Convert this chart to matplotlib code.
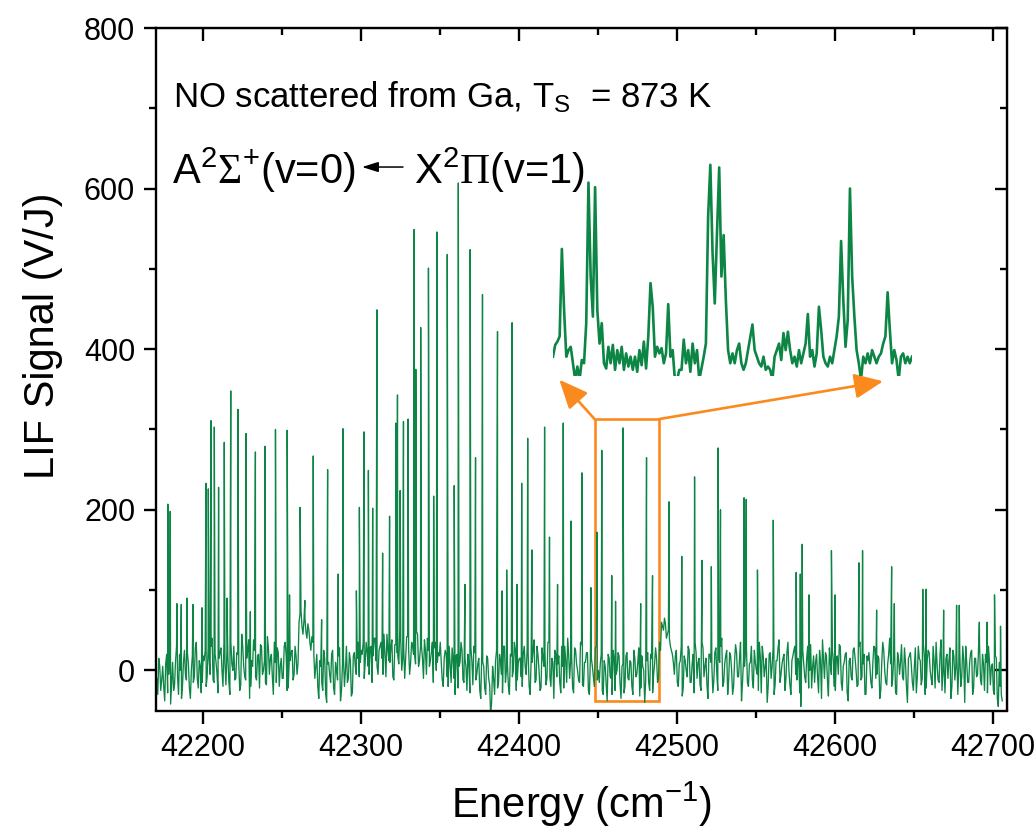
import numpy as np
import matplotlib
matplotlib.use('Agg')
import matplotlib.pyplot as plt
from matplotlib.patches import Rectangle
from matplotlib.ticker import MultipleLocator

plt.rcParams['font.family'] = ['Liberation Sans', 'DejaVu Sans']
plt.rcParams['mathtext.fontset'] = 'custom'
plt.rcParams['mathtext.rm'] = 'Liberation Sans'
plt.rcParams['mathtext.sf'] = 'Liberation Serif'
plt.rcParams['mathtext.it'] = 'Liberation Sans:italic'

green = '#0d8545'
orange = '#fb8a1e'

# baseline of the LIF scan, one reading every 1.25 cm-1 starting at 42171 cm-1
noise_start = 42171.0
noise_step = 1.25
noise = [
    -10, 15, -25, 5, -38, 20, -5, -42, 10, -18,
    30, -30, 0, -20, 25, -12, 8, -35, 18, -8,
    35, -22, 5, -15,
    12, -20, 28, -5, 40, -15, 10, -28, 22, 0,
    35, -18, 15, -30, 8, 30, -10, 20, -25, 45,
    5, -12, 25, -35, 12, 38, -8, 18, -22, 30,
    0, -15, 42, -5, 20, -30, 10, 28, -20, 15,
    -10, 35, -25, 8, 22, -12, 30, -5,
    60, 75, 45, 65, 40, 50, 25, 35,
    -10, 20, -35, 5, -25, 15, -40, 10, -15, 25,
    -30, 0, 18, -38, 8, -20, 30, -10, 12, -28,
    22, -5, 35, 10,
    20, -10, 35, 5, 28, -15, 40, 12, -5, 30,
    15, 45, -8, 25, 10, 38, -12, 32, 18, 50,
    0, 28, 15, 42, -5, 35, 20, 8, 45, 12,
    30, -10, 25, 40, 5, 22, -15, 35, 10, 18,
    10, -20, 25, -8, 30, -15, 12, -30, 20, 5,
    35, -12, 15, -25, 8, 28, -18, 22, -5, 15,
    -35, 10, -22, 18, -10, -55, 5, -30, 25, -15,
    12, -28, 30, 0, -20, 20, -8, 35, -25, 10,
    15, -20, 30, -5, 22, -30, 10, 38, -12, 18,
    -25, 28, 5, -18, 35, -8, 15, -35, 20, 8,
    -15, 30, -22, 12, 40, -10, 18, -28, 25, 0,
    -15, 32, -20, 10, 22, -30, 15, -8, 28, -12,
    -15, 20, -30, 5, -38, 15, -10, 25, -25, 0,
    18, -35, 8, -20, 22, -12, 10, -30, 15, -5,
    28, -22, 5, -40, 12, -15, 20, -28, 8, 15,
    -10, 25,
    55, 65, 40, 50, 30, 20,
    -5, 25, -20, 12, -32, 18, 0, 30, -15, 8,
    -28, 22, 10, -18, 35, -8, 15, -35, 20, 5,
    -12, 28, -25, 10, 40, -15, 18, -30, 22, 0,
    -20, 32, -8, 15, -38, 12, 25, -15, 8, 30,
    -22, 10, -5, 35, -28, 18, 5, -40, 20, -10,
    28, -18, 12, 38, -5, 15, -25, 22, 0, -30,
    18, 30, -12, 10, -45, 25, -8, 15, -22, 32,
    5, -15, 20, -28, 12, 38, -10, 18, -32, 8,
    25, -20, 15, -5, 30, -25, 10, 22, -38, 15,
    -12, 28, 0, -18, 35, -8, 20, -30, 12, 5,
    -22, 30, -10, 18, -35, 10, 25, -15, 8, 40,
    -20, 15, -28, 22, -5, 32, -12, 10, -40, 18,
    5, -25, 28, -8, 15, -18, 35, -30, 12, 22,
    -10, 30, -22, 8, -15, 38, 0, -28, 20, 12,
    -35, 25, -12, 18, 5, -20, 30, -40, 10, -15,
    22, -30, 15, -8, 28, -12, 20, -25, 10, 30,
    -18, 8, -30, 15, -45, -20, -38,
]
# readings halfway between the ones above
noise_mid = [
    -30, 5, -12, -20, 8, -28, 15, -15, -25, 12,
    -8, 20, -35, 10, -5, 22, -22, 0, -15, 28,
    -10, 12, -28, 18, 25, -8, 15, 30, -12, 20,
    -5, 15, 28, -20, 10, 25, -15, 35, 0, -12,
    22, 8, -18, 30, -8, 15, 38, -20, 5, 25,
    -12, 20, 32, -5, 12, -18, 28, 15, -8, 35,
    -15, 22, 5, -10, 30, 18, -22, 12, 25, -5,
    18, 10, 70, 55, 62, 48, 58, 35, 42, 20,
    5, -20, 12, -15, 25, -30, 8, -5, 20, -22,
    10, -12, 28, -25, 15, 0, -15, 22, -32, 18,
    5, 15, -8, 25, 35, 10, 22, -5, 30, 18,
    40, 5, 25, 35, -5, 20, 45, 12, 28, -8,
    32, 22, 8, 38, 15, -10, 42, 25, 10, 30,
    20, 48, 5, 30, 15, 38, -5, 25, 12, 35,
    28, 0, 22, 35, -12, 15, 20, -20, 8, 28,
    -10, 18, -22, 10, 25, -15, 5, 20, -28, 12,
    30, -12, 8, -25, 20, 5, -30, 15, -18, -40,
    -10, 12, -22, 20, -5, 30, -15, 8, -30, 18,
    0, 25, -12, 15, -8, 20, 5, 28, -20, 12,
    25, -15, 30, 0, -22, 15, 22, -10, 35, -20,
    10, 25, -8, 18, -28, 5, 30, -15, 20, 12,
    -22, 28, 8, -12, 35, -18, 10, 22, -25, 15,
    5, -20, 30, 0, 8, -25, 12, -18, 20, -8,
    -30, 15, -5, 22, -15, 5, -28, 18, -10, 12,
    -20, 25, -8, 10, -32, 18, 0, -12, 22, -25,
    15, -5, 28, -15, 35, 60, 50, 58, 45, 40,
    25, 10, 18, -15, 8, 30, -22, 12, -8, 25,
    -15, 20, 35, -10, 15, -25, 28, 5, -18, 20,
    10, -28, 22, -5, 15, 30, -20, 8, 25, -12,
    18, -30, 12, 22, -8, 35, -15, 5, 28, -20,
    10, -12, 25, 0, -25, 18, 30, -8, 15, -20,
    22, 5, -30, 12, 28, -15, 8, 20, -10, 35,
    -18, 12, 25, -5, 15, -28, 20, 8, -15, 30,
    0, -22, 18, 10, -8, 25, -35, 15, 22, -12,
    28, -5, 10, -25, 18, 32, -15, 5, 20, -28,
    12, -8, 25, 15, -20, 30, -12, 8, -30, 18,
    22, -15, 10, 28, -5, 15, -25, 35, 0, -18,
    20, 8, -12, 25, -30, 15, 10, -8, 28, -20,
    15, 22, -15, 5, -28, 30, 12, -10, 18, -22,
    25, 0, -18, 12, 35, -12, 20, -25, 8, 15,
    -10, 28, -20, 18, 5, -30, 22, -8, 12, 30,
    -15, 10, 25, -22, 15, -5, 32, -18, 8, 20,
    -28, 12, 5, -25, 18, -35, 10, -30,
]

# rotational lines: position (cm-1) and peak signal (V/J)
peak_energy = [
    42178.0, 42179.5, 42183.7, 42186.5, 42190.1, 42193.9, 42199.6,
    42202.1, 42203.6, 42205.3, 42207.4, 42210.1, 42213.7, 42215.4,
    42217.8, 42222.4, 42227.5, 42230.2, 42233.4, 42239.5, 42246.1,
    42253.5, 42255.0, 42261.7, 42264.7, 42270.0, 42275.3, 42279.1,
    42285.8, 42288.8, 42297.3, 42299.2, 42302.1, 42304.9, 42307.6,
    42310.3, 42313.9, 42318.3, 42322.3, 42323.3, 42325.0, 42327.1,
    42330.0, 42333.8, 42334.9, 42338.0, 42342.9, 42346.2, 42348.3,
    42354.8, 42359.2, 42361.8, 42366.0, 42369.3, 42372.7, 42377.1,
    42386.6, 42389.5, 42392.4, 42395.8, 42398.9, 42401.9, 42405.7,
    42408.4, 42416.4, 42419.5, 42424.6, 42428.2, 42433.2, 42440.0,
    42445.7, 42449.6, 42452.6, 42458.9, 42461.3, 42466.0, 42477.2,
    42480.9, 42484.7, 42495.1, 42503.2, 42511.3, 42516.0, 42521.9,
    42526.2, 42527.7, 42542.6, 42544.0, 42551.1, 42561.1, 42575.6,
    42578.2, 42579.4, 42583.7, 42597.9, 42600.2, 42615.3, 42617.6,
    42626.5, 42636.0, 42637.7, 42655.7, 42657.8, 42668.9, 42677.1,
    42678.8, 42691.5, 42696.4, 42701.1, 42704.9,
]
peak_height = [
    207, 198, 83, 82, 90, 82, 78,
    233, 226, 311, 303, 228, 284, 90,
    348, 325, 295, 73, 272, 279, 300,
    299, 94, 203, 87, 267, 63, 250,
    120, 301, 99, 203, 297, 249, 202,
    449, 146, 192, 308, 343, 224, 310,
    313, 549, 375, 427, 501, 217, 546,
    518, 230, 607, 107, 524, 265, 468,
    422, 99, 125, 433, 107, 233, 289,
    150, 303, 166, 107, 308, 186, 246,
    103, 172, 274, 118, 86, 302, 83,
    265, 118, 210, 142, 241, 137, 129,
    277, 200, 215, 213, 125, 187, 122,
    120, 157, 94, 149, 94, 134, 149,
    75, 129, 83, 101, 101, 75, 81,
    81, 60, 60, 94, 55,
]

# expanded section shown in the inset
inset_range = (42448.0, 42489.0)
inset_signal = [
    10, 28, 33, 41, 174, 81, 10, 20, 25, 0,
    -25, -5, -25, 5, 0, 61, 275, 132, 71, 268,
    81, 30, 61, 0, -8, 25, 0, 28, -10, 20,
    0, 25, -10, 15, -5, 10, -10, 10, -13, 20,
    -3, 33, -8, 41, 122, 86, 10, 25, 15, 23,
    0, 15, 90, 10, 20, -25, -25, -10, -10, 36,
    0, 20, -13, 30, 0, 20, -25, -8, 10, 30,
    223, 302, 168, 91, 198, 298, 132, 195, 96, 20,
    0, 15, 0, 20, 30, 0, -10, 0, 20, 41,
    59, 20, 10, 0, -5, 10, -10, -5, -10, -25,
    10, 20, 30, 5, 46, 20, 48, 20, 0, 10,
    -5, 20, 0, 15, 30, 75, 10, 20, -5, 15,
    86, 51, 10, 0, -5, 10, 0, 20, 41, 71,
    186, 96, 25, 66, 266, 132, 71, 20, 0, -25,
    10, 0, 15, 0, 20, 10, 0, 10, 15, 30,
    41, 108, 51, 0, 20, 5, -25, 10, 15, 0,
    10, 0, 10,
]
box_low, box_high = -38, 313

# merge baseline readings and line maxima into one trace
noise_energy = noise_start + noise_step * np.arange(len(noise))
mid_energy = noise_start + noise_step * (np.arange(len(noise_mid)) + 0.5)
energy = np.concatenate([noise_energy, mid_energy, peak_energy])
signal = np.concatenate([noise, noise_mid, peak_height]).astype(float)
order = np.argsort(energy)
energy, signal = energy[order], signal[order]

fig = plt.figure(figsize=(10.36, 8.33), dpi=100)
W, H = 1036, 833
ax = fig.add_axes([156 / W, 1 - 710.5 / H, 851 / W, 682.5 / H])
ax.plot(energy, signal, color=green, lw=0.95)
ax.set_xlim(42170.5, 42709)
ax.set_ylim(-50, 800)

ax.xaxis.set_major_locator(MultipleLocator(100))
ax.xaxis.set_minor_locator(MultipleLocator(50))
ax.yaxis.set_major_locator(MultipleLocator(200))
ax.yaxis.set_minor_locator(MultipleLocator(100))
ax.tick_params(which='both', direction='out', width=1.7, labelsize=22)
ax.tick_params(which='major', length=9, pad=6)
ax.tick_params(which='minor', length=5)
ax.tick_params(axis='x', which='major', pad=7)
for sp in ax.spines.values():
    sp.set_linewidth(1.7)

top = ax.secondary_xaxis('top')
top.xaxis.set_major_locator(MultipleLocator(100))
top.xaxis.set_minor_locator(MultipleLocator(50))
top.tick_params(which='both', direction='in', width=1.7, labeltop=False)
top.tick_params(which='major', length=9)
top.tick_params(which='minor', length=5)
right = ax.secondary_yaxis('right')
right.yaxis.set_major_locator(MultipleLocator(200))
right.yaxis.set_minor_locator(MultipleLocator(100))
right.tick_params(which='both', direction='in', width=1.7, labelright=False)
right.tick_params(which='major', length=9)
right.tick_params(which='minor', length=5)

fig.text(581.5 / W, 1 - 818 / H, r'Energy (cm$^{\mathregular{-1}}$)',
         fontsize=30, ha='center', va='baseline')
fig.text(43 / W, 1 - 336 / H, 'LIF Signal (V/J)', fontsize=30,
         rotation=90, ha='center', va='center')

ax.text(0.0205, 0.8843, r'NO scattered from Ga, T$_{\mathregular{S}}$  = 873 K',
        transform=ax.transAxes, fontsize=25, va='baseline')
# transition label: upper state, thin arrow, lower state
ax.text(0.019, 0.7714,
        r'A$^{\mathregular{2}}\mathsf{\Sigma}^{\mathregular{+}}$(v=0)',
        transform=ax.transAxes, fontsize=30, va='baseline')
ax.annotate('', xy=(0.2421, 0.7963), xytext=(0.2902, 0.7963),
            xycoords='axes fraction', textcoords='axes fraction',
            arrowprops=dict(arrowstyle='-|>,head_length=0.7,head_width=0.22',
                            color='black', lw=1.1, mutation_scale=14,
                            shrinkA=0, shrinkB=0))
ax.text(0.3032, 0.7714, r'X$^{\mathregular{2}}\mathsf{\Pi}$(v=1)',
        transform=ax.transAxes, fontsize=30, va='baseline')

# zoom box and arrows to the inset
ax.add_patch(Rectangle((inset_range[0], box_low), inset_range[1] - inset_range[0],
                       box_high - box_low, fill=False, ec=orange, lw=1.9))
arrow = dict(arrowstyle='-|>,head_length=0.8,head_width=0.35', color=orange,
             lw=1.9, mutation_scale=22, shrinkA=0, shrinkB=0)
ax.annotate('', xy=(42425.7, 362), xytext=(inset_range[0], box_high), arrowprops=arrow)
ax.annotate('', xy=(42630.6, 360), xytext=(inset_range[1], box_high), arrowprops=arrow)

inset = fig.add_axes([553 / W, 1 - 376.4 / H, 359 / W, (376.4 - 153) / H])
inset_energy = np.linspace(inset_range[0], inset_range[1], len(inset_signal))
inset.plot(inset_energy, inset_signal, color=green, lw=1.9)
inset.set_xlim(*inset_range)
inset.set_ylim(-20, 320)
inset.axis('off')
inset.patch.set_alpha(0)

fig.savefig('out.png', dpi=100)
